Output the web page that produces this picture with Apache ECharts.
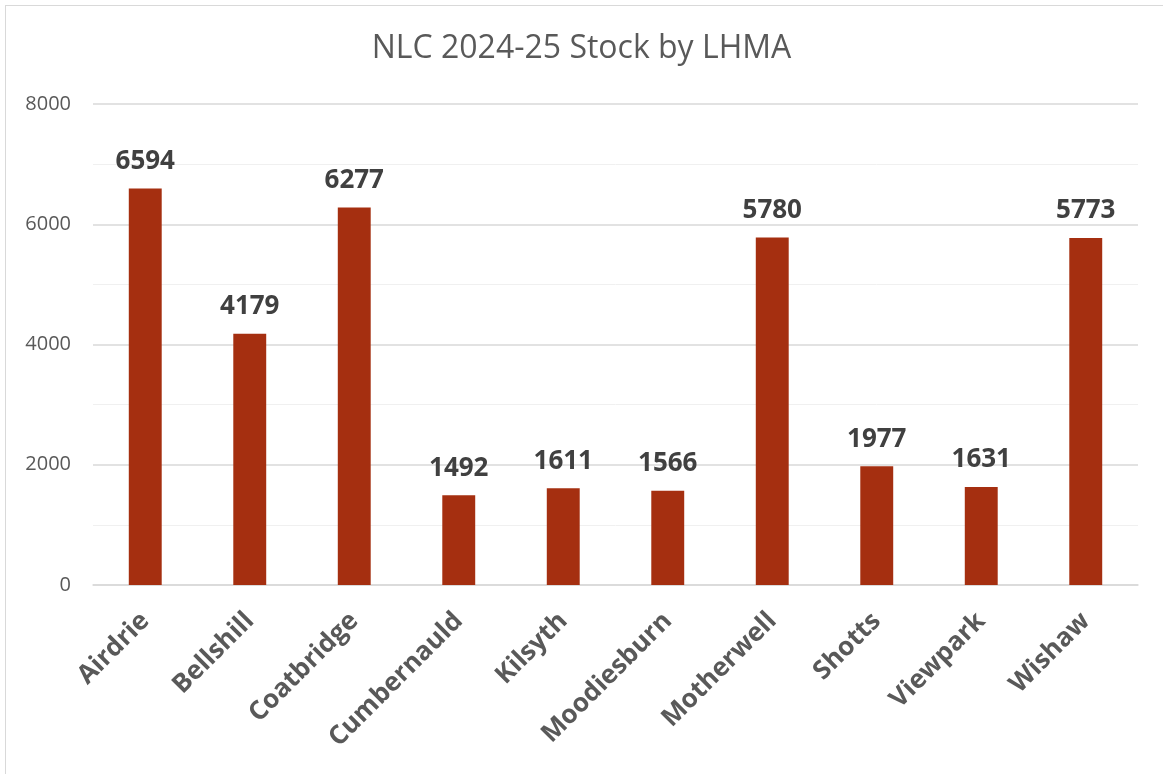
<!DOCTYPE html>
<html>
<head>
<meta charset="utf-8">
<script src="https://cdn.jsdelivr.net/npm/echarts@6/dist/echarts.min.js"></script>
<style>
html,body{margin:0;padding:0;background:#fff;}
#frame{position:absolute;left:5px;top:5px;width:1200px;height:800px;border:1px solid #d9d9d9;box-sizing:border-box;}
#chart{position:absolute;left:0;top:0;width:1163px;height:774px;}
</style>
</head>
<body>
<div id="frame"></div>
<div id="chart"></div>
<script>
const categories = ['Airdrie','Bellshill','Coatbridge','Cumbernauld','Kilsyth','Moodiesburn','Motherwell','Shotts','Viewpark','Wishaw'];
const stock = [6594, 4179, 6277, 1492, 1611, 1566, 5780, 1977, 1631, 5773];
const titleText = 'NLC 2024-25 Stock by LHMA';

const chart = echarts.init(document.getElementById('chart'));
chart.setOption({
  backgroundColor: 'transparent',
  animation: false,
  title: {
    text: titleText,
    left: 'center',
    top: 28,
    textStyle: {fontFamily: 'Open Sans', fontSize: 32, fontWeight: 'normal', color: '#595959'}
  },
  grid: {left: 93, right: 25, top: 104, bottom: 189, containLabel: false},
  xAxis: {
    type: 'category',
    data: categories,
    axisLine: {show: true, lineStyle: {color: '#d9d9d9', width: 1.5}},
    axisTick: {show: false},
    axisLabel: {
      rotate: 45,
      interval: 0,
      margin: 32,
      fontFamily: 'Open Sans',
      fontSize: 26,
      fontWeight: 'bold',
      color: '#595959'
    }
  },
  yAxis: {
    type: 'value',
    min: 0,
    max: 8000,
    interval: 2000,
    axisLine: {show: false},
    axisTick: {show: false},
    axisLabel: {margin: 22, fontFamily: 'Open Sans', fontSize: 20, color: '#595959', formatter: function (v) { return String(v); }},
    splitLine: {show: true, lineStyle: {color: '#d9d9d9', width: 1.5}},
    minorTick: {show: false, splitNumber: 2},
    minorSplitLine: {show: true, lineStyle: {color: '#f0f0f0', width: 1}}
  },
  series: [{
    type: 'bar',
    data: stock,
    barWidth: '31.5%',
    itemStyle: {color: '#A52F10'},
    label: {
      show: true,
      position: 'top',
      distance: 14,
      fontFamily: 'Open Sans',
      fontSize: 26,
      fontWeight: 'bold',
      color: '#404040'
    }
  }]
});
</script>
</body>
</html>
